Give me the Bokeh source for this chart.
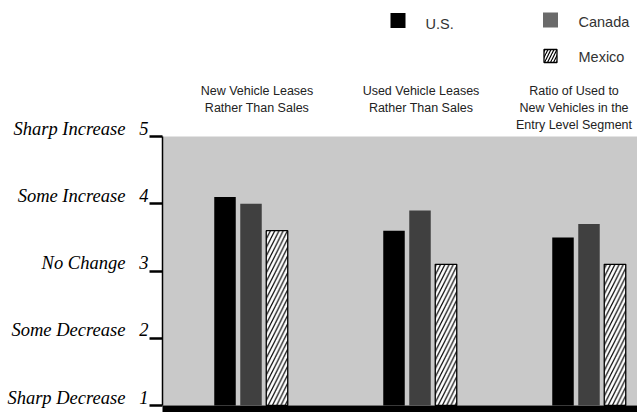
from bokeh.plotting import figure
from bokeh.models import LinearAxis, FixedTicker, Range1d, BoxAnnotation, ColumnDataSource
from bokeh.core.properties import value
from bokeh.embed import file_html
from bokeh.resources import INLINE

# ---- data -------------------------------------------------------------
categories = [
    "New Vehicle Leases\nRather Than Sales",
    "Used Vehicle Leases\nRather Than Sales",
    "Ratio of Used to\nNew Vehicles in the\nEntry Level Segment",
]
countries = ["U.S.", "Canada", "Mexico"]
us_values = [4.1, 3.6, 3.5]
canada_values = [4.0, 3.9, 3.7]
mexico_values = [3.6, 3.1, 3.1]
levels = [1, 2, 3, 4, 5]
level_names = ["Sharp Decrease", "Some Decrease", "No Change",
               "Some Increase", "Sharp Increase"]

# ---- layout -------------------------------------------------------------
W, H = 637, 412
AXIS_PX = 162         # page x of the vertical scale line
GROUP1_PX = 250.5     # page x of the first category centre
PX_X = 169.0          # pixels between category groups
PX_Y = 67.25          # pixels per scale step
BASE_PX = 7           # height of the black floor under the bars
TOP_PX = 136          # space above the top of the scale

# the frame fills the whole page; the scale is pinned inside it
x_start = 1 - GROUP1_PX / PX_X
x_end = x_start + W / PX_X
y_start = levels[0] - BASE_PX / PX_Y
y_end = levels[-1] + TOP_PX / PX_Y


def sx(px):
    """page x -> data x"""
    return x_start + px / PX_X


def sy(px):
    """page y (from top) -> data y"""
    return y_end - px / PX_Y


axis_x = sx(AXIS_PX)

p = figure(width=W, height=H, x_range=Range1d(x_start, x_end),
           y_range=Range1d(y_start, y_end),
           output_backend="svg", toolbar_location=None,
           x_axis_location=None, y_axis_location=None,
           min_border_left=0, min_border_right=0,
           min_border_top=0, min_border_bottom=0)
p.outline_line_color = None
p.grid.visible = False
p.background_fill_color = "white"
p.border_fill_color = "white"

# shaded chart area and black floor
p.add_layout(BoxAnnotation(left=axis_x, bottom=levels[0], top=levels[-1],
                           fill_color="#c9c9c9", fill_alpha=1.0, line_color=None,
                           level="underlay"))
p.add_layout(BoxAnnotation(left=axis_x, top=levels[0], fill_color="black",
                           fill_alpha=1.0, line_color=None, level="underlay"))

# ---- bars ---------------------------------------------------------------
group_x = [i + 1 for i in range(len(categories))]
OFFSET = 26 / PX_X
BAR_W = 21.5 / PX_X

src = ColumnDataSource(dict(
    x_us=[g - OFFSET for g in group_x],
    x_ca=list(group_x),
    x_mx=[g + OFFSET for g in group_x],
    us=us_values, ca=canada_values, mx=mexico_values,
))
p.vbar(x="x_us", top="us", bottom=levels[0], width=BAR_W, source=src,
       fill_color="black", line_color=None)
p.vbar(x="x_ca", top="ca", bottom=levels[0], width=BAR_W, source=src,
       fill_color="#404040", line_color=None)
p.vbar(x="x_mx", top="mx", bottom=levels[0], width=BAR_W, source=src,
       fill_color="white", line_color="black", line_width=1.3,
       hatch_pattern="/", hatch_scale=8.5, hatch_weight=1.2, hatch_color="black")

# ---- scale on the left ----------------------------------------------------
TICK_LEN = 13
tick_axis = LinearAxis(ticker=FixedTicker(ticks=levels), bounds=(levels[0], levels[-1]),
                       fixed_location=axis_x,
                       major_label_overrides={lv: "" for lv in levels},
                       major_label_standoff=0, major_label_text_font_size="1px",
                       major_tick_out=TICK_LEN, major_tick_in=0, major_tick_line_width=2.5,
                       minor_tick_out=0, minor_tick_in=0,
                       axis_line_width=1.5, axis_line_color="black")
p.add_layout(tick_axis, "left")

# labels sit slightly above their tick marks
SHIFT = 8 / PX_Y
p.extra_y_ranges = {"labels": Range1d(y_start - SHIFT, y_end - SHIFT)}
label_axis = LinearAxis(y_range_name="labels", ticker=FixedTicker(ticks=levels),
                        fixed_location=axis_x,
                        major_label_overrides={lv: f"{name}\u00a0\u00a0\u00a0{lv}"
                                               for lv, name in zip(levels, level_names)},
                        major_label_standoff=TICK_LEN + 1,
                        major_label_text_font="Liberation Serif",
                        major_label_text_font_style="italic",
                        major_label_text_font_size="18.5px",
                        major_label_text_color="black",
                        major_tick_out=0, major_tick_in=0,
                        minor_tick_out=0, minor_tick_in=0,
                        axis_line_color=None)
p.add_layout(label_axis, "left")

# ---- category headings ------------------------------------------------------
nudge_px = [6, 1, -15]
p.text(x=[g + n / PX_X for g, n in zip(group_x, nudge_px)],
       y=[sy(83)] * len(categories), text=categories,
       text_align="center", text_baseline="top",
       text_font=value("Liberation Sans"), text_font_size="12.5px",
       text_line_height=1.22, text_color="#222222")

# ---- legend -------------------------------------------------------------
p.scatter(x=[sx(397.5)], y=[sy(20)], marker="square", size=15,
          fill_color="black", line_color=None)
p.scatter(x=[sx(550)], y=[sy(19.5)], marker="square", size=15,
          fill_color="#6a6a6a", line_color=None)
p.scatter(x=[sx(550)], y=[sy(55.5)], marker="square", size=13,
          fill_color="white", line_color="black", line_width=1.3,
          hatch_pattern="/", hatch_scale=6, hatch_weight=1.2, hatch_color="black")
p.text(x=[sx(425), sx(578), sx(578)], y=[sy(23), sy(21), sy(56)], text=countries,
       text_align="left", text_baseline="middle",
       text_font=value("Liberation Sans"), text_font_size="14.5px",
       text_color="#333333")

open("out.html", "w").write(file_html(p, INLINE))
